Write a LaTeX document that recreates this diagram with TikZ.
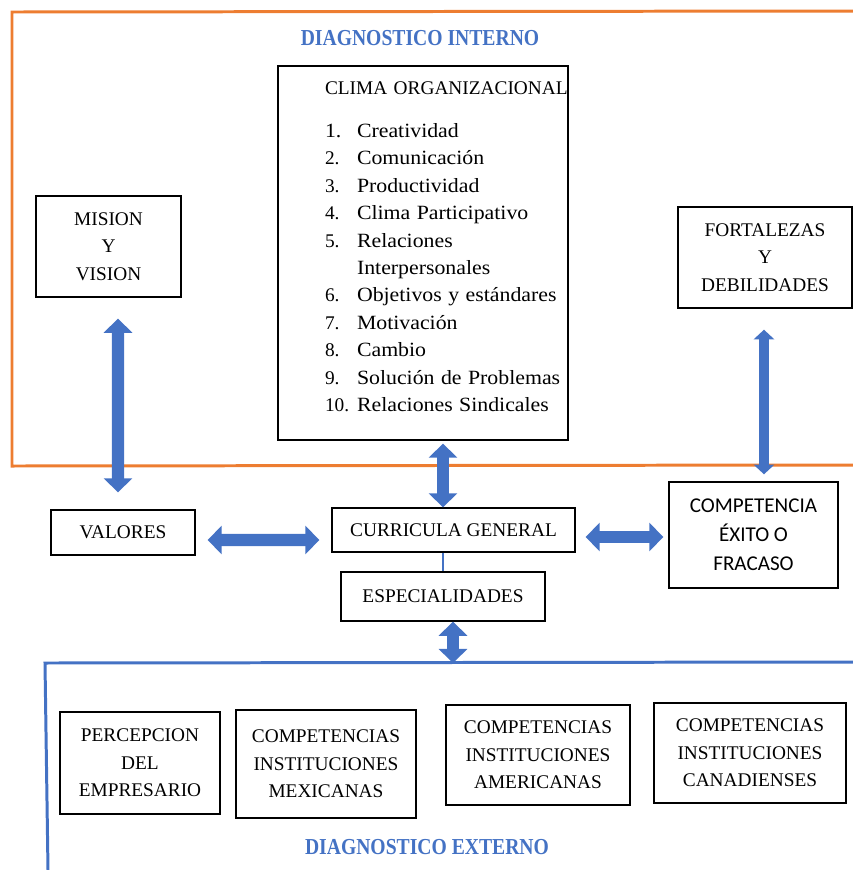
\documentclass[tikz,border=0pt]{standalone}
\usepackage{fontspec}
\setmainfont{Liberation Serif}
\newfontfamily\calibrifont{Carlito}
\newfontfamily\condfont[FakeStretch=0.86]{Liberation Serif}
\newfontfamily\widefont[FakeStretch=1.08]{Liberation Serif}
\usepackage{xcolor}
\usepackage{tikz}
\usetikzlibrary{arrows.meta,positioning,calc}

\definecolor{frameorange}{HTML}{ED7D31}
\definecolor{frameblue}{HTML}{4472C4}
\definecolor{arrowblue}{HTML}{4472C4}

\begin{document}
\begin{tikzpicture}[
    x=0.02cm, y=-0.02cm,
    box/.style={
        rectangle, draw, line width=0.8pt,
        align=center, inner sep=2pt,
        font=\fontsize{11}{15.6}\selectfont,
        fill=white
    },
    heading/.style={
        font=\condfont\bfseries\fontsize{13}{16}\selectfont,
        text=frameblue
    },
    bigarrow/.style={
        draw=arrowblue, line width=7pt,
        {Triangle[width=16pt, length=8pt]}-{Triangle[width=16pt, length=8pt]}
    },
    slimarrow/.style={
        draw=arrowblue, line width=5.5pt,
        {Triangle[width=11.5pt, length=5.5pt]}-{Triangle[width=11.5pt, length=5.5pt]}
    },
    intframe/.style={draw=frameorange, line width=1.7pt},
    extframe/.style={draw=frameblue, line width=1.7pt}
]
    \useasboundingbox (0,0) rectangle (853,870);

    % Internal diagnosis frame
    \draw [intframe] (853,11) -- (12,12) -- (12,466) -- (853,465);
    \node [heading] (internal) at (420,38) {DIAGNOSTICO INTERNO};

    % Climate list
    \node [box, text width=5.8cm, inner xsep=0pt, align=left,
           minimum height=7.48cm] (clima) at (423,253) {%
        \hspace*{0.94cm}\begin{tabular}{@{}p{0.64cm}@{}l@{}}
        \multicolumn{2}{@{}l}{CLIMA ORGANIZACIONAL}\\[9pt]
        \widefont\fontsize{11.5}{15.6}\selectfont
        1. & \widefont\fontsize{11.5}{15.6}\selectfont Creatividad\\
        2. & \widefont\fontsize{11.5}{15.6}\selectfont Comunicación\\
        3. & \widefont\fontsize{11.5}{15.6}\selectfont Productividad\\
        4. & \widefont\fontsize{11.5}{15.6}\selectfont Clima Participativo\\
        5. & \widefont\fontsize{11.5}{15.6}\selectfont Relaciones\\
           & \widefont\fontsize{11.5}{15.6}\selectfont Interpersonales\\
        6. & \widefont\fontsize{11.5}{15.6}\selectfont Objetivos y estándares\\
        7. & \widefont\fontsize{11.5}{15.6}\selectfont Motivación\\
        8. & \widefont\fontsize{11.5}{15.6}\selectfont Cambio\\
        9. & \widefont\fontsize{11.5}{15.6}\selectfont Solución de Problemas\\
        10. & \widefont\fontsize{11.5}{15.6}\selectfont Relaciones Sindicales\rule[-11pt]{0pt}{11pt}
        \end{tabular}};

    \node [box, minimum width=2.9cm, minimum height=2.02cm] (mision) at (108.5,246.5) {MISION\\Y\\VISION};
    \node [box, minimum width=3.48cm, minimum height=2.02cm] (fortalezas) at (765,257.5) {FORTALEZAS\\Y\\DEBILIDADES};

    % Middle row
    \node [box, minimum width=2.88cm, minimum height=0.9cm] (valores) at (123,532.5) {VALORES};
    \node [box, minimum width=4.86cm, minimum height=0.88cm] (curricula) at (453.5,530) {CURRICULA GENERAL};
    \node [box, minimum width=4.08cm, minimum height=0.98cm] (especialidades) at (443,596.5) {ESPECIALIDADES};
    \node [box, minimum width=3.38cm, minimum height=2.12cm,
           font=\calibrifont\fontsize{12}{16.4}\selectfont] (competencia) at (753.5,535) {COMPETENCIA\\ÉXITO O\\FRACASO};

    % External diagnosis frame
    \draw [extframe] (853,662) -- (45,663) -- (48,870);
    \coordinate (external top) at (453,663);
    \node [heading] (external) at (427,847) {DIAGNOSTICO EXTERNO};

    \node [box, minimum width=3.2cm, minimum height=2.04cm] (percepcion) at (140,763) {PERCEPCION\\DEL\\EMPRESARIO};
    \node [box, minimum width=3.6cm, minimum height=2.16cm] (mexicanas) at (326,764) {COMPETENCIAS\\INSTITUCIONES\\MEXICANAS};
    \node [box, minimum width=3.68cm, minimum height=2cm] (americanas) at (538,755) {COMPETENCIAS\\INSTITUCIONES\\AMERICANAS};
    \node [box, minimum width=3.84cm, minimum height=2cm] (canadienses) at (750,753) {COMPETENCIAS\\INSTITUCIONES\\CANADIENSES};

    % Arrows
    \draw [bigarrow] ($(mision.south)+(9.5,21)$) -- ($(valores.north)+(-5,-17)$);
    \draw [bigarrow] ($(valores.east)+(12,7.5)$) -- ($(curricula.west)+(-12,10)$);
    \draw [bigarrow] ($(clima.south)+(20,3)$) -- ($(curricula.north)+(-10.5,0)$);
    \draw [bigarrow] ($(curricula.east)+(10,7)$) -- ($(competencia.west)+(-5,2)$);
    \draw [slimarrow] ($(fortalezas.south)+(-1,21)$) -- ($(competencia.north)+(10.5,-7)$);
    \draw [bigarrow] ($(especialidades.south)+(10,0)$) -- (external top);
    \draw [draw=arrowblue, line width=1.2pt] ($(curricula.south)+(-10.5,0)$) -- (especialidades.north);

\end{tikzpicture}
\end{document}
